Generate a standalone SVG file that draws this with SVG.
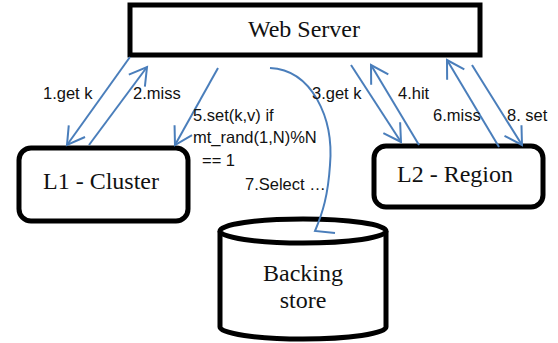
<svg xmlns="http://www.w3.org/2000/svg" width="558" height="343" viewBox="0 0 558 343">
<defs>
<style>
.box{fill:#fff;stroke:#000;stroke-width:5}
.big{font-family:"Liberation Serif",serif;font-size:24px;fill:#111;text-anchor:middle}
.lbl{font-family:"Liberation Sans",Arial,sans-serif;font-size:16.5px;fill:#111}
.con{fill:none;stroke:#4a7ebb;stroke-width:2}
</style>
<marker id="ah" markerUnits="userSpaceOnUse" markerWidth="24" markerHeight="24" viewBox="-20 -12 24 24" refX="0" refY="0" orient="auto">
<path d="M-17,-10 L0,0 L-17,10" fill="none" stroke="#4a7ebb" stroke-width="2"/>
</marker>
</defs>
<rect width="558" height="343" fill="#fff"/>
<g id="web-server">
<rect class="box" x="130" y="5" width="350" height="50"/>
<text class="big" x="304" y="37">Web Server</text>
</g>
<g id="l1-cluster">
<rect class="box" x="19" y="148" width="169" height="73" rx="12"/>
<text class="big" x="101" y="189">L1 - Cluster</text>
</g>
<g id="l2-region">
<rect class="box" x="374" y="146" width="169" height="61" rx="12"/>
<text class="big" x="455" y="182">L2 - Region</text>
</g>
<g id="backing-store">
<path class="box" d="M220,231 L220,327 A83,12 0 0 0 386,327 L386,231"/>
<ellipse class="box" cx="303" cy="231" rx="83" ry="12"/>
<text class="big" x="303" y="281">Backing</text>
<text class="big" x="303" y="308">store</text>
</g>
<g id="connectors">
<line class="con" x1="130" y1="57" x2="67" y2="145" marker-end="url(#ah)"/>
<line class="con" x1="89" y1="145" x2="147" y2="67" marker-end="url(#ah)"/>
<line class="con" x1="218" y1="68" x2="175" y2="145" marker-end="url(#ah)"/>
<line class="con" x1="351" y1="65" x2="401" y2="142" marker-end="url(#ah)"/>
<line class="con" x1="419" y1="145" x2="371" y2="65" marker-end="url(#ah)"/>
<line class="con" x1="499" y1="147" x2="447" y2="60" marker-end="url(#ah)"/>
<line class="con" x1="472" y1="65" x2="522" y2="145" marker-end="url(#ah)"/>
<path class="con" d="M270,68 C312,70 334,118 330,165 C328,195 323,212 315,231 L335,233"/>
</g>
<g id="labels">
<text class="lbl" x="43" y="99">1.get k</text>
<text class="lbl" x="133" y="99">2.miss</text>
<text class="lbl" x="193" y="121">5.set(k,v) if</text>
<text class="lbl" x="193" y="143">mt_rand(1,N)%N</text>
<text class="lbl" x="202" y="166">== 1</text>
<text class="lbl" x="245" y="190">7.Select …</text>
<text class="lbl" x="312" y="99">3.get k</text>
<text class="lbl" x="398" y="99">4.hit</text>
<text class="lbl" x="433" y="121">6.miss</text>
<text class="lbl" x="507" y="121">8. set</text>
</g>
</svg>
